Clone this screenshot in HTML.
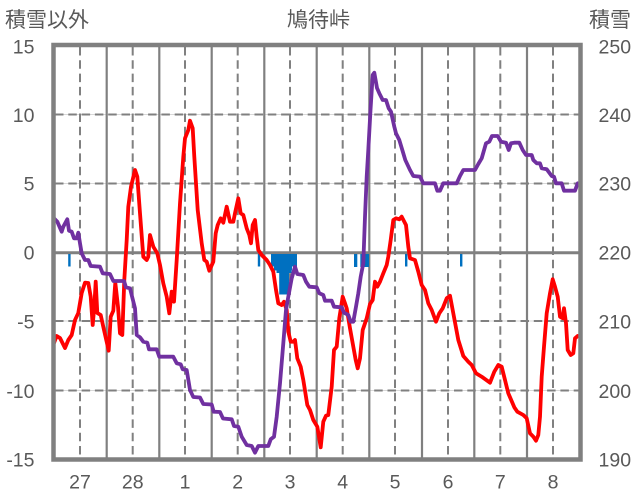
<!DOCTYPE html>
<html><head><meta charset="utf-8"><style>
html,body{margin:0;padding:0;background:#fff;}
svg{display:block;}
text{font-family:"Liberation Sans","Noto Sans CJK JP",sans-serif;fill:#595959;}
</style></head><body>
<svg width="636" height="501" viewBox="0 0 636 501" xmlns="http://www.w3.org/2000/svg">
<rect width="636" height="501" fill="#fff"/>
<!-- horizontal grid -->
<g stroke="#d9d9d9" stroke-width="1">
<line x1="55" y1="114.5" x2="579" y2="114.5"/>
<line x1="55" y1="183.5" x2="579" y2="183.5"/>
<line x1="55" y1="321" x2="579" y2="321"/>
<line x1="55" y1="390.5" x2="579" y2="390.5"/>
</g>
<g stroke="#808080" stroke-width="2" stroke-dasharray="8.5 4.8">
<line x1="55" y1="114.5" x2="579" y2="114.5"/>
<line x1="55" y1="183.5" x2="579" y2="183.5"/>
<line x1="55" y1="321" x2="579" y2="321"/>
<line x1="55" y1="390.5" x2="579" y2="390.5"/>
</g>
<!-- vertical dashed -->
<g stroke="#808080" stroke-width="2" stroke-dasharray="8.5 4.8">
<line x1="80" y1="47" x2="80" y2="458"/>
<line x1="132.7" y1="47" x2="132.7" y2="458"/>
<line x1="185" y1="47" x2="185" y2="458"/>
<line x1="237.7" y1="47" x2="237.7" y2="458"/>
<line x1="290" y1="47" x2="290" y2="458"/>
<line x1="342.7" y1="47" x2="342.7" y2="458"/>
<line x1="395" y1="47" x2="395" y2="458"/>
<line x1="448" y1="47" x2="448" y2="458"/>
<line x1="500.3" y1="47" x2="500.3" y2="458"/>
<line x1="553" y1="47" x2="553" y2="458"/>
</g>
<!-- vertical solid -->
<g stroke="#808080" stroke-width="2.2">
<line x1="106.7" y1="45" x2="106.7" y2="459"/>
<line x1="159.3" y1="45" x2="159.3" y2="459"/>
<line x1="211.7" y1="45" x2="211.7" y2="459"/>
<line x1="264.3" y1="45" x2="264.3" y2="459"/>
<line x1="316.7" y1="45" x2="316.7" y2="459"/>
<line x1="369.3" y1="45" x2="369.3" y2="459"/>
<line x1="422" y1="45" x2="422" y2="459"/>
<line x1="474.3" y1="45" x2="474.3" y2="459"/>
<line x1="527" y1="45" x2="527" y2="459"/>
</g>
<!-- zero line -->
<line x1="54" y1="252.8" x2="580" y2="252.8" stroke="#808080" stroke-width="3"/>
<!-- blue bars -->
<g fill="#0070c0">
<rect x="68.2" y="254" width="2.4" height="12.5"/>
<rect x="257.8" y="254" width="2.4" height="12.5"/>
<rect x="271" y="254" width="26" height="12.5"/>
<rect x="274" y="254" width="18" height="16.5"/>
<rect x="276.5" y="254" width="15" height="19"/>
<rect x="279.2" y="254" width="9.8" height="40.5"/>
<rect x="354" y="254" width="3.3" height="13"/>
<rect x="360.3" y="254" width="8.7" height="13"/>
<rect x="405" y="254" width="2.4" height="12.5"/>
<rect x="460" y="254" width="2.4" height="12.5"/>
</g>
<!-- red series -->
<polyline fill="none" stroke="#ff0000" stroke-width="3.8" stroke-linejoin="round" stroke-linecap="round" points="54,343 56.7,336 60,338 65,348 68.3,340 71.7,335 75,320 78.3,313 81.7,293 85,282.7 88.3,283 90.7,296.7 92.7,325 94.3,306.7 95.7,281.7 97.3,313 100.7,315 104,330 108.7,350.7 110.7,316.7 113.3,310.7 115.3,282.7 118,306.7 120,333.3 122.3,335 124.3,280 126.7,240 128.3,206.7 131,186.7 135,170 137.3,176.7 140,213.3 143.3,256.7 146.7,260 148.3,256.7 150,235 153.3,246.7 157.3,253.3 160,265 163.3,283.3 166.7,296.7 169.3,313.3 171.7,291.7 174,301.7 176.7,260 180,203.3 183.3,156.7 185,138.3 188.3,130 190,120.7 192.7,128.3 194.3,156.7 197.7,210 201.7,243.3 204.3,260 206.7,261.7 209.3,270.7 213.3,261.7 215.7,233.3 217.7,225 220.7,218.3 223.3,222.7 226.7,206.7 230,221.7 233.3,221.7 235,213.3 238.3,198.3 240.7,213.3 243.3,215 246.7,228.3 249.3,235 251,243.3 252.7,225 255,220 256.7,236.7 258.3,250 261.7,255 266.7,260 270,265 273.3,271.7 276,290 278.3,303.3 281.7,305 284,301.7 286.7,310 288.3,331.7 290.7,341.7 293.3,341.7 295,340 297.3,358.3 300.7,366.7 303.3,380 307.3,405 310,410 313.3,420 317.3,426.7 320.7,447.3 323.3,421.7 326,415.7 328.3,415 331.7,386.7 334,350 336.7,346.7 339.3,318.3 342.7,296.7 345,303.3 346.7,308.3 350,328.3 353.3,346.7 355.7,360 357.7,368.3 360,358.3 362.7,330 366.7,318.3 370,304 372.7,300 375,281.7 377.3,286.7 380,281.7 383.3,273.3 386.7,265 388.3,256.7 390.7,240 393.3,220 396,218.3 399.3,219.3 401.7,216.7 406,225 408.3,246.7 410,258.3 415,260 418.3,271.7 421.7,285 425,290 428.3,303.3 431.7,310 436,321.7 439.3,313.3 442.7,308.3 446.7,298.3 450,295.7 453.3,313.3 458.3,340 463.3,356 468.3,361.7 471.7,365 476,373.3 481.7,376.7 490,382.7 494.3,371.7 498.3,365 501.7,366.7 505,380 508.3,393.3 514.3,407.3 517.3,411.7 523.3,415 526.7,418.3 530,433.3 533.3,436.7 536,440.7 538.3,435 540,416.7 541.7,376.7 544,346.7 546.7,313.3 550,293.3 552.7,279.3 555,286.7 557.7,296.7 560,316.7 562.7,318.3 564,308.3 566,323.3 567.7,350 570.7,355 573.3,353.3 575,338.3 577.7,336"/>
<!-- purple series -->
<polyline fill="none" stroke="#7030a0" stroke-width="3.8" stroke-linejoin="round" stroke-linecap="round" points="54,218.3 57.3,221.7 61.7,231.7 63.3,226.7 67.3,219.3 69,230.7 71.7,231.7 74,238.3 76.7,238.3 78.3,232.7 80,243.3 81.7,253.3 85,260 88.3,260 90.7,266 100,266.7 102.7,273.3 110,274 113.3,281 124,281 126,287.3 130,288.3 135,308.3 136.7,335 140,337.3 143.3,341.7 147.3,342.7 149,349.3 156.7,349.3 159.3,356.7 173.3,356.7 176.7,363.3 180.7,364.3 182.7,369.3 186.7,370 190,390 193.3,397 200,397.5 203.3,404 211.7,404.5 213.7,411.7 220,412 223,418.5 231.7,419.3 234,426 238.3,426.7 241.7,436.7 246.7,445 251.7,446 255,452.7 258.3,446 268.3,446 270.7,439.3 274,436.7 276.7,416.7 280,383.3 283.3,343.3 286,310 288.3,296.7 291.7,278.3 295,266.7 297.3,274 303.3,275 306,281.7 309.3,286.7 316.7,287.3 319.3,293.3 323.3,295 325,300.7 331.7,300.7 334,306.7 341.7,307.3 344,312.7 348.3,315 350.7,321.7 353.3,321.7 356,306.7 358.3,293.3 360.7,276.7 363.3,263.3 365,216.7 366.7,176.7 368.3,150 370.5,110 372.7,75 374.3,72.7 377,88 379.3,93.3 382.7,100 386,100 388.7,108.3 391,111.7 394.3,126.7 396,133.3 399.3,140 403.3,153.3 405.3,160 410,170 413.3,176 420,176.7 423.3,183.3 435,183.3 437.3,190.7 440,190.7 443.3,183.3 456.7,183.3 460,176 463.3,170 475,170 478.3,164 481.7,158.3 486,143.3 489.3,141.7 492,136 497.7,136 501,141.7 506,142.7 508.7,150 511,143.3 514.3,142.7 519.3,142.7 522.7,150 526,155 531.7,155 533.3,160 536.7,163.3 540,163.3 541.7,168.3 546.7,169.3 551.7,176 554,176.7 556,183.3 561.7,183.3 564,190.7 575,190.7 577.7,183.3"/>
<!-- frame -->
<rect x="53.5" y="45" width="527" height="414.5" fill="none" stroke="#808080" stroke-width="4.5"/>
<!-- titles -->
<text x="5" y="27" font-size="21">積雪以外</text>
<text x="318.5" y="27" font-size="21" text-anchor="middle">鳩待峠</text>
<text x="589" y="27" font-size="21">積雪</text>
<!-- left axis labels -->
<g font-size="19.5" text-anchor="end">
<text x="34.5" y="53.3">15</text>
<text x="34.5" y="122">10</text>
<text x="34.5" y="190.7">5</text>
<text x="34.5" y="259.5">0</text>
<text x="34.5" y="328.5">-5</text>
<text x="34.5" y="397.8">-10</text>
<text x="34.5" y="466.5">-15</text>
</g>
<!-- right axis labels -->
<g font-size="19.5" text-anchor="start">
<text x="598.5" y="53.3">250</text>
<text x="598.5" y="122">240</text>
<text x="598.5" y="190.7">230</text>
<text x="598.5" y="259.5">220</text>
<text x="598.5" y="328.5">210</text>
<text x="598.5" y="397.8">200</text>
<text x="598.5" y="466.5">190</text>
</g>
<!-- x axis labels -->
<g font-size="19.5" text-anchor="middle">
<text x="80" y="488.5">27</text>
<text x="132.7" y="488.5">28</text>
<text x="185" y="488.5">1</text>
<text x="237.7" y="488.5">2</text>
<text x="290" y="488.5">3</text>
<text x="342.7" y="488.5">4</text>
<text x="395" y="488.5">5</text>
<text x="448" y="488.5">6</text>
<text x="500.3" y="488.5">7</text>
<text x="553" y="488.5">8</text>
</g>
</svg>
</body></html>
